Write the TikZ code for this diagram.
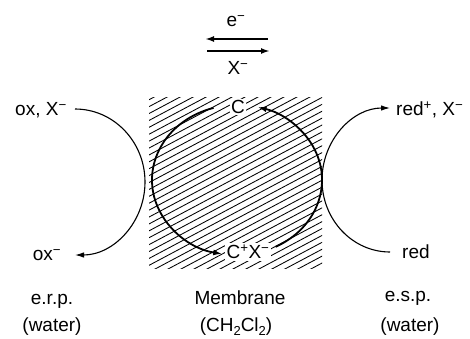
\documentclass[tikz,border=0pt]{standalone}
\usepackage{fontspec}
\setmainfont{Liberation Sans}
\usetikzlibrary{arrows.meta}
\newcommand{\supm}{\textsuperscript{−}}
\newcommand{\supp}{\textsuperscript{+}}
\newcommand{\subtwo}{\raisebox{-0.35ex}{\fontsize{13}{14}\selectfont 2}}
\tikzset{
  lbl/.style={font=\fontsize{19}{22}\selectfont, inner sep=1pt},
  inlbl/.style={lbl, fill=white, inner sep=1.5pt},
  thinarc/.style={line width=1.1pt, -{Latex[length=9pt,width=5.5pt]}},
  thickarc/.style={line width=1.8pt, -{Latex[length=9pt,width=6pt]}},
  hatch/.style={line width=0.85pt},
}
\begin{document}
\begin{tikzpicture}[x=1pt,y=1pt]
\useasboundingbox (0,0) rectangle (470,338);
% hatched membrane
\begin{scope}
  \clip (149,70) rectangle (322,241);
  \foreach \c in {-50,-43.1,...,225} \draw[hatch] (100,\c) -- ++(28:320pt);
\end{scope}
% centre of membrane carrier cycle
\coordinate (m) at (237,158);
\node[inlbl] (C) at (238,231) {C};
\node[inlbl] (CX) at (248,86) {C\supp X\supm};
\draw[thickarc] ([shift={(106:85pt and 75pt)}]m) arc[start angle=106,end angle=260,x radius=85pt,y radius=75pt];
\draw[thickarc] ([shift={(-63:85pt and 75pt)}]m) arc[start angle=-63,end angle=76,x radius=85pt,y radius=75pt];
% top exchange arrows
\node[lbl] (e) at (236,317) {e\supm};
\node[lbl] (x) at (238,270) {X\supm};
\coordinate (t1a) at (268,299);
\coordinate (t1b) at (205,299);
\coordinate (t2a) at (207,287);
\coordinate (t2b) at (270,287);
\draw[line width=1.8pt,-{Latex[length=9pt,width=6pt]}] (t1a) -- (t1b);
\draw[line width=1.8pt,-{Latex[length=9pt,width=6pt]}] (t2a) -- (t2b);
% left side
\node[lbl, anchor=east] (oxX) at (68,228) {ox, X\supm};
\node[lbl] (oxm) at (47,83) {ox\supm};
\coordinate (lo) at (75,229);
\draw[thinarc] (lo) arc[start angle=90,end angle=-90,x radius=70pt,y radius=73pt];
% right side
\node[lbl, anchor=west] (redp) at (395,228) {red\supp, X\supm};
\node[lbl, anchor=west] (red) at (401,86) {red};
\coordinate (ro) at (390,86);
\draw[thinarc] (ro) arc[start angle=270,end angle=90,x radius=68pt,y radius=72pt];
% bottom labels
\node[lbl] (erp) at (52,37) {e.r.p.};
\node[lbl] (w1) at (52,11) {(water)};
\node[lbl] (mem) at (240,40) {Membrane};
\node[lbl] (sol) at (236,11) {(CH\subtwo Cl\subtwo)};
\node[lbl] (esp) at (408,40) {e.s.p.};
\node[lbl] (w2) at (410,11) {(water)};
\end{tikzpicture}
\end{document}
